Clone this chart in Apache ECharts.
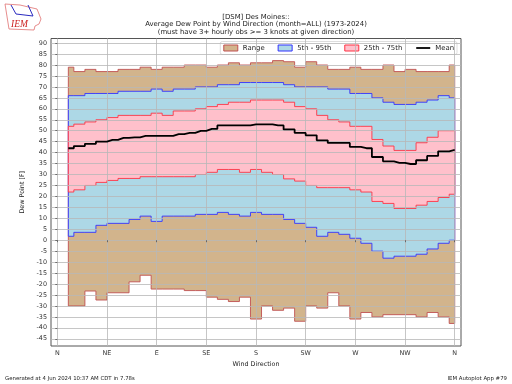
<!DOCTYPE html>
<html>
<head>
<meta charset="utf-8">
<style>html,body{margin:0;padding:0;background:#fff}#chart{width:512px;height:384px}</style>
<script src="https://cdn.jsdelivr.net/npm/echarts@6/dist/echarts.min.js"></script>
</head>
<body>
<div id="chart"></div>
<script>
// wind direction of each bin, degrees
const directions = [10, 20, 30, 40, 50, 60, 70, 80, 90, 100, 110, 120, 130, 140, 150, 160, 170, 180,
  190, 200, 210, 220, 230, 240, 250, 260, 270, 280, 290, 300, 310, 320, 330, 340, 350, 360]
const dewMax = [79, 77, 78, 77, 77, 78, 78, 79, 78, 79, 79, 80, 80, 79, 80, 81, 80, 81,
  81, 82, 81.5, 79, 81.5, 80, 78, 78, 79, 78, 78, 80, 77, 78, 77, 77, 77, 80]
const dewP95 = [66, 66, 67, 67, 67, 68, 68, 68, 69, 68, 69, 69, 70, 70, 71, 71, 72, 72,
  72, 72, 71, 70, 70, 70, 69, 69, 67, 67, 65, 63, 62, 62, 63, 64, 66, 65]
const dewP75 = [52, 53, 54, 55, 56, 57, 57, 57, 58, 57, 59, 59, 60, 61, 62, 63, 63, 64,
  64, 64, 63, 61, 60, 57, 55, 54, 52, 52, 46, 43, 41, 41, 44.5, 47, 50, 50]
const dewMean = [42, 43, 44, 45, 45.8, 46.7, 47, 47.6, 47.6, 47.6, 48.4, 49, 49.9, 50.8, 52.4, 52.4, 52.4, 52.9,
  52.9, 52.4, 50.6, 49, 47.9, 45.6, 44.4, 44.4, 42.6, 42, 38, 36, 35.3, 34.8, 36.5, 38.5, 40.6, 41.2]
const dewP25 = [22, 23, 25, 26.4, 27.3, 28.2, 28.2, 29, 29, 29, 29, 29, 30, 31, 32.3, 32.3, 31, 32.3,
  31, 30, 28, 27, 25, 24, 24, 24, 23, 22, 17.7, 16.8, 14.5, 14.5, 16, 17.7, 19.5, 21]
const dewP5 = [1.8, 3.6, 3.6, 6.8, 7.7, 7.7, 9.5, 11, 8.6, 11, 11, 11, 11.8, 11.8, 12.7, 11.8, 11, 12.7,
  11.8, 11.8, 9.5, 7.7, 5.9, 1.8, 3.6, 2.7, 0.9, -1.4, -5, -8.2, -7.3, -7.3, -6.4, -4, -1.4, 0]
const dewMin = [-30, -30, -23.2, -27.3, -24, -24, -19, -16, -22.3, -22.3, -22.3, -23, -23, -26, -27, -28, -26, -36,
  -30, -32, -31, -37, -30, -31, -24, -30, -36, -33, -35, -34, -34, -34, -35, -33, -35, -38]
const xTicks = [0, 45, 90, 135, 180, 225, 270, 315, 360]
const xTickLabels = ['N', 'NE', 'E', 'SE', 'S', 'SW', 'W', 'NW', 'N']
const yTicks = [-45, -40, -35, -30, -25, -20, -15, -10, -5, 0, 5, 10, 15, 20, 25, 30, 35, 40, 45, 50, 55, 60, 65, 70, 75, 80, 85, 90]

const font = 'DejaVu Sans'
const gridColor = '#b8b8b8'

// filled band between two step curves, outlined all the way round
function bandSeries (name, low, high, fill, stroke, z) {
  return {
    name: name,
    type: 'custom',
    coordinateSystem: 'cartesian2d',
    z: z,
    silent: true,
    itemStyle: { color: fill, borderColor: stroke, borderWidth: 1 },
    encode: { x: 0, y: [1, 2] },
    data: directions.map((d, i) => [d, low[i], high[i]]),
    renderItem (params, api) {
      if (params.dataIndex !== 0) return null
      const upper = []
      const lower = []
      directions.forEach((d, i) => {
        const left = i === 0 ? d : d - 5
        const right = i === directions.length - 1 ? d : d + 5
        upper.push(api.coord([left, high[i]]), api.coord([right, high[i]]))
        lower.push(api.coord([left, low[i]]), api.coord([right, low[i]]))
      })
      return {
        type: 'polygon',
        shape: { points: upper.concat(lower.reverse()) },
        style: { fill: fill, stroke: stroke, lineWidth: 0.9 }
      }
    }
  }
}

const chart = echarts.init(document.getElementById('chart'), null, { renderer: 'canvas' })
chart.setOption({
  animation: false,
  backgroundColor: '#fff',
  textStyle: { fontFamily: font },
  title: [
    {
      text: '[DSM] Des Moines::\nAverage Dew Point by Wind Direction (month=ALL) (1973-2024)\n(must have 3+ hourly obs >= 3 knots at given direction)',
      left: 256,
      top: 13,
      padding: 0,
      textAlign: 'center',
      textStyle: { fontFamily: font, fontSize: 6.9, fontWeight: 'normal', color: '#222', lineHeight: 7.6 }
    },
    {
      text: 'Generated at 4 Jun 2024 10:37 AM CDT in 7.78s',
      left: 5,
      top: 376,
      padding: 0,
      textStyle: { fontFamily: font, fontSize: 5.4, fontWeight: 'normal', color: '#222' }
    },
    {
      text: 'IEM Autoplot App #79',
      right: 5,
      top: 376,
      padding: 0,
      textStyle: { fontFamily: font, fontSize: 5.4, fontWeight: 'normal', color: '#222' }
    }
  ],
  legend: {
    right: 55,
    top: 41.5,
    itemWidth: 14,
    itemHeight: 6,
    itemGap: 13,
    padding: [3, 3, 3, 3],
    backgroundColor: '#fff',
    borderColor: '#ddd',
    borderWidth: 1,
    borderRadius: 2,
    textStyle: { fontFamily: font, fontSize: 6.9, color: '#222' },
    data: [
      { name: 'Range', icon: 'rect', itemStyle: { color: '#d2b48c', borderColor: '#c05050', borderWidth: 1 } },
      { name: '5th - 95th', icon: 'rect', itemStyle: { color: '#add8e6', borderColor: '#3333ff', borderWidth: 1 } },
      { name: '25th - 75th', icon: 'rect', itemStyle: { color: '#ffc0cb', borderColor: '#ff3344', borderWidth: 1 } },
      // line series always add a marker to their legend icon, hide it
      { name: 'Mean', itemStyle: { color: 'transparent', borderColor: 'transparent', borderWidth: 0 }, lineStyle: { color: '#000', width: 1.8 } }
    ]
  },
  grid: { left: 51, right: 51, top: 38.5, bottom: 38, show: true, borderColor: '#555', borderWidth: 1, backgroundColor: 'transparent' },
  xAxis: {
    type: 'value',
    z: 5,
    min: -5.7,
    max: 365.7,
    name: 'Wind Direction',
    nameLocation: 'center',
    nameGap: 12,
    nameTextStyle: { fontFamily: font, fontSize: 6.4, color: '#222' },
    axisLine: { show: false },
    axisTick: { show: true, length: 2, customValues: xTicks, lineStyle: { color: '#444', width: 0.7 } },
    axisLabel: {
      customValues: xTicks,
      margin: 4,
      fontFamily: font,
      fontSize: 6.4,
      color: '#333',
      formatter: v => xTickLabels[xTicks.indexOf(v)]
    },
    splitLine: { show: true, lineStyle: { color: gridColor, width: 0.8 } }
  },
  yAxis: {
    type: 'value',
    z: 5,
    min: -48.3,
    max: 92.1,
    name: 'Dew Point [F]',
    nameLocation: 'center',
    nameGap: 22,
    nameTextStyle: { fontFamily: font, fontSize: 6.4, color: '#222' },
    axisLine: { show: false },
    axisTick: { show: true, length: 2, customValues: yTicks, lineStyle: { color: '#444', width: 0.7 } },
    axisLabel: { customValues: yTicks, margin: 4, fontFamily: font, fontSize: 6.4, color: '#333' },
    splitLine: { show: true, lineStyle: { color: gridColor, width: 0.8 } }
  },
  series: [
    bandSeries('Range', dewMin, dewMax, '#d2b48c', '#c05050', 1),
    bandSeries('5th - 95th', dewP5, dewP95, '#add8e6', '#3333ff', 2),
    bandSeries('25th - 75th', dewP25, dewP75, '#ffc0cb', '#ff3344', 3),
    {
      name: 'Mean',
      type: 'line',
      z: 10,
      step: 'middle',
      symbol: 'none',
      silent: true,
      itemStyle: { color: '#000' },
      lineStyle: { color: '#000', width: 1.8 },
      data: directions.map((d, i) => [d, dewMean[i]])
    }
  ],
  graphic: [
    {
      type: 'polygon',
      shape: { points: [[5, 4], [20, 5], [37, 9], [41, 19], [39, 24], [35, 26], [34, 30], [9, 29]] },
      style: { fill: '#fff', stroke: '#e07070', lineWidth: 0.8 }
    },
    {
      type: 'polyline',
      shape: { points: [[11, 5], [16, 14], [33, 16], [28, 5]] },
      style: { fill: 'none', stroke: '#2a2ac0', lineWidth: 1 }
    },
    {
      type: 'text',
      style: { x: 11, y: 19, text: 'IEM', fill: '#cc2222', font: 'italic 9.5px "Liberation Serif"' }
    }
  ]
})
</script>
</body>
</html>
